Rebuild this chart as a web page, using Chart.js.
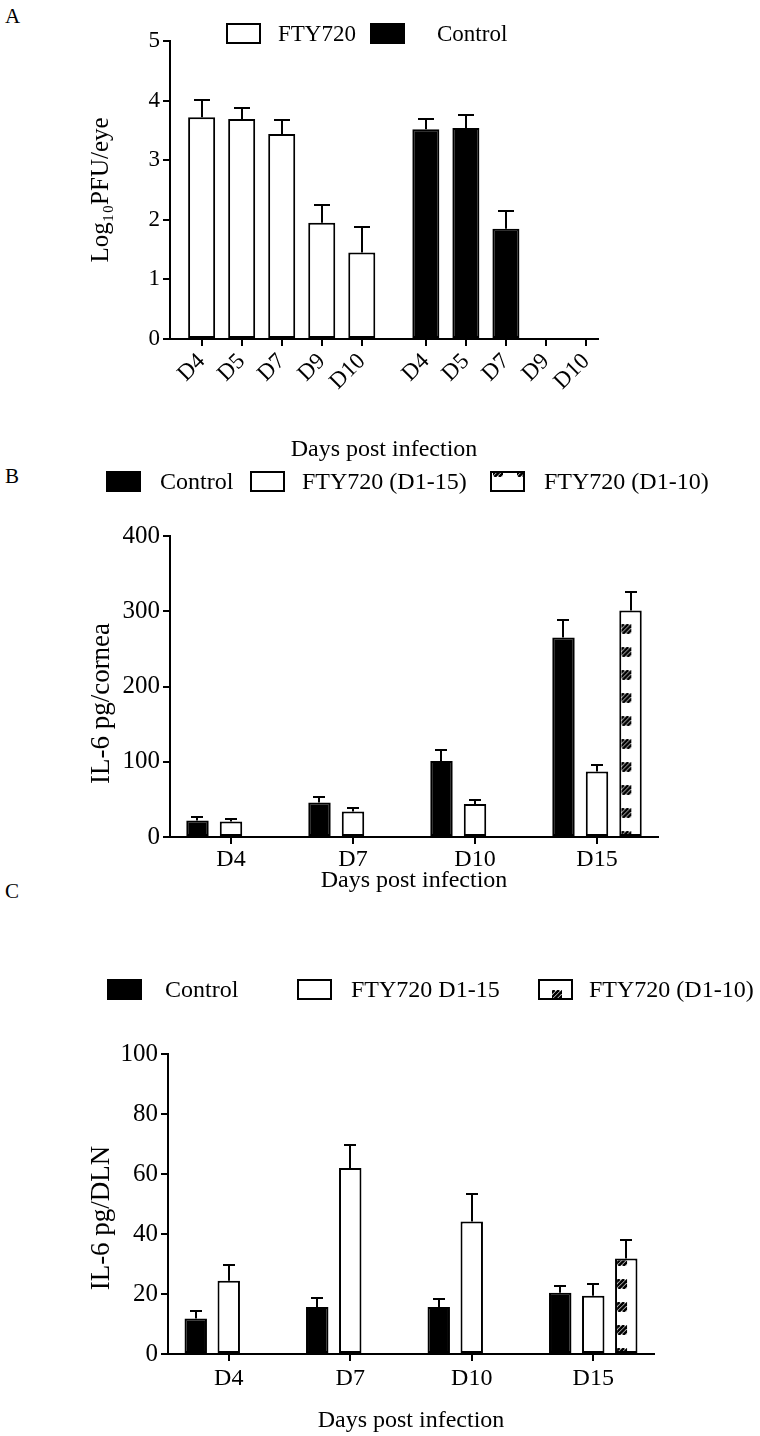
<!DOCTYPE html>
<html>
<head>
<meta charset="utf-8">
<script src="https://cdn.jsdelivr.net/npm/chart.js@4.4.1/dist/chart.umd.min.js"></script>
<style>
  html, body { margin: 0; padding: 0; background: #fff; }
  body { width: 760px; height: 1436px; position: relative; overflow: hidden;
         font-family: "Liberation Serif", "Times New Roman", serif; }
  canvas { position: absolute; left: 0; }
  .panel { position: absolute; left: 5px; font-size: 21px; line-height: 1; color: #000; }
</style>
</head>
<body>
<div class="panel" style="top:6px">A</div>
<div class="panel" style="top:466px">B</div>
<div class="panel" style="top:881px">C</div>
<canvas id="chartA" width="760" height="464" style="top:0px"></canvas>
<canvas id="chartB" width="760" height="435" style="top:460px"></canvas>
<canvas id="chartC" width="760" height="530" style="top:905px"></canvas>
<script>
// ---------------- DATA ----------------
// Panel A: virus titre (Log10 PFU/eye)
const panelADays = ['D4', 'D5', 'D7', 'D9', 'D10'];
const panelAFty = [3.72, 3.69, 3.44, 1.95, 1.45];
const panelAFtyErr = [0.29, 0.19, 0.23, 0.30, 0.43];
const panelACtrl = [3.52, 3.54, 1.85, 0, 0];
const panelACtrlErr = [0.17, 0.22, 0.30, 0, 0];

// Panels B and C: categories
const cytoDays = ['D4', 'D7', 'D10', 'D15'];

// Panel B: IL-6 pg/cornea
const bCtrl = [22, 46, 101, 265];
const bCtrlErr = [4, 7.5, 14, 23];
const bFty15 = [20.5, 34, 43.7, 87];
const bFty15Err = [4, 4, 5.3, 9];
const bFty10 = [null, null, null, 301];
const bFty10Err = [null, null, null, 25];

// Panel C: IL-6 pg/DLN
const cCtrl = [11.8, 15.7, 15.7, 20.4];
const cCtrlErr = [2.6, 3.1, 2.8, 2.4];
const cFty15 = [24.4, 62, 44.2, 19.4];
const cFty15Err = [5.2, 7.7, 9.3, 3.9];
const cFty10 = [null, null, null, 31.8];
const cFty10Err = [null, null, null, 6.1];

// ---------------- SETUP ----------------
const FONT = '"Liberation Serif", "Times New Roman", serif';
Chart.defaults.font.family = FONT;
Chart.defaults.color = '#000';
Chart.defaults.animation = false;

function makeHatch(ctx) {
  const tile = document.createElement('canvas');
  tile.width = 24; tile.height = 23;
  const t = tile.getContext('2d');
  t.fillStyle = '#fff';
  t.fillRect(0, 0, 24, 23);
  t.save();
  t.beginPath(); t.rect(0, 0, 10, 10); t.clip();
  t.strokeStyle = '#000'; t.lineWidth = 2.6;
  for (let s = -12; s <= 22; s += 4.5) {
    t.beginPath(); t.moveTo(s, 10); t.lineTo(s + 10, 0); t.stroke();
  }
  t.restore();
  return ctx.createPattern(tile, 'repeat');
}

const errorBarsPlugin = {
  id: 'errorBars',
  afterDatasetsDraw(chart, args, opts) {
    const ctx = chart.ctx;
    const yScale = chart.scales.y;
    ctx.save();
    ctx.strokeStyle = '#000';
    ctx.lineWidth = opts.lineWidth || 2;
    chart.data.datasets.forEach((ds, i) => {
      const meta = chart.getDatasetMeta(i);
      if (!ds.errors || meta.hidden) return;
      meta.data.forEach((el, j) => {
        const parsed = meta.controller.getParsed(j);
        const err = ds.errors[j];
        if (!parsed || parsed.y == null || isNaN(parsed.y) || !err) return;
        const yBar = yScale.getPixelForValue(parsed.y);
        const yTop = Math.round(yScale.getPixelForValue(parsed.y + err));
        const x = Math.round(el.x);
        const half = opts.capWidth / 2;
        ctx.beginPath();
        ctx.moveTo(x, yBar); ctx.lineTo(x, yTop);
        ctx.moveTo(x - half, yTop); ctx.lineTo(x + half, yTop);
        ctx.stroke();
      });
    });
    ctx.restore();
  }
};

const hatchAnchorPlugin = {
  id: 'hatchAnchor',
  beforeDatasetsDraw(chart) {
    chart.data.datasets.forEach((ds, i) => {
      if (!ds.hatch) return;
      const meta = chart.getDatasetMeta(i);
      const el = meta.data.find((e, j) => ds.data[j] != null);
      if (!el) return;
      ds.backgroundColor.setTransform(new DOMMatrix([1, 0, 0, 1,
        el.x - el.width / 2 + 2, el.base - 5]));
    });
  }
};

// shifts the y-axis title along the axis (the source figure places it slightly low)
const titleShiftPlugin = {
  id: 'titleShift',
  afterLayout(chart, args, opts) {
    const s = chart.scales.y;
    if (!s || !opts.dy || s._titleShiftWrapped) return;
    const orig = s.drawTitle;
    const dy = opts.dy;
    s.drawTitle = function () {
      const t = this.top, b = this.bottom;
      this.top = t + dy; this.bottom = b + dy;
      orig.call(this);
      this.top = t; this.bottom = b;
    };
    s._titleShiftWrapped = true;
  }
};

const boxLegendPlugin = {
  id: 'boxLegend',
  afterDraw(chart, args, opts) {
    if (!opts.items) return;
    const ctx = chart.ctx;
    ctx.save();
    ctx.font = opts.fontSize + 'px ' + FONT;
    ctx.textBaseline = 'middle';
    ctx.textAlign = 'left';
    opts.items.forEach((it, k) => {
      const ds = chart.data.datasets[k];
      const fill = ds.backgroundColor;
      if (ds.hatch) fill.setTransform(new DOMMatrix([1, 0, 0, 1, it.x + (it.px || 0), it.y + (it.py || 0)]));
      ctx.fillStyle = fill;
      ctx.fillRect(it.x, it.y, it.w, it.h);
      ctx.strokeStyle = '#000';
      ctx.lineWidth = 2;
      ctx.strokeRect(it.x + 1, it.y + 1, it.w - 2, it.h - 2);
      ctx.fillStyle = '#000';
      ctx.fillText(ds.label, it.tx, it.y + it.h / 2 + 1);
    });
    ctx.restore();
  }
};

function axisCommon(extra) {
  return Object.assign({
    grid: { display: true, drawOnChartArea: false, drawTicks: true, tickLength: 7,
            color: '#000', lineWidth: 2, offset: false },
    border: { display: true, color: '#000', width: 2 }
  }, extra);
}

const barStyle = { borderColor: '#000', borderWidth: 2, borderSkipped: false };

// ---------------- PANEL A ----------------
const aGroupGap = 0.6;
const aFtyPos = panelADays.map((_, i) => i);
const aCtrlPos = panelADays.map((_, i) => i + panelADays.length + aGroupGap);
const aTickPos = aFtyPos.concat(aCtrlPos);
const aTickLabels = panelADays.concat(panelADays);

new Chart(document.getElementById('chartA'), {
  type: 'bar',
  data: {
    datasets: [
      Object.assign({ label: 'FTY720', backgroundColor: '#fff', errors: panelAFtyErr,
        data: aFtyPos.map((x, i) => ({ x: x, y: panelAFty[i] })) }, barStyle),
      Object.assign({ label: 'Control', backgroundColor: '#000', errors: panelACtrlErr,
        data: aCtrlPos.map((x, i) => ({ x: x, y: panelACtrl[i] })) }, barStyle)
    ]
  },
  options: {
    responsive: false,
    animation: false,
    layout: { padding: { left: 86, right: 162, top: 41, bottom: 0 } },
    datasets: { bar: { grouped: false, barPercentage: 0.675, categoryPercentage: 1 } },
    plugins: {
      legend: { display: false },
      tooltip: { enabled: false },
      errorBars: { capWidth: 16, lineWidth: 2 },
      boxLegend: { fontSize: 23, items: [
        { x: 226, y: 23, w: 35, h: 21, tx: 278 },
        { x: 370, y: 23, w: 35, h: 21, tx: 437 }
      ] }
    },
    scales: {
      x: axisCommon({
        type: 'linear', min: -0.79, max: 9.9, offset: false,
        afterBuildTicks: s => { s.ticks = aTickPos.map(v => ({ value: v })); },
        afterFit: s => { s.height = 125; },
        ticks: { autoSkip: false, minRotation: 45, maxRotation: 45, padding: 2,
                 font: { size: 23 }, callback: (v, i) => aTickLabels[i] },
        title: { display: true, text: 'Days post infection', font: { size: 24 }, padding: 0 }
      }),
      y: axisCommon({
        min: 0, max: 5,
        afterFit: s => { s.width = 84; },
        ticks: { stepSize: 1, padding: 3, font: { size: 23 } },
        title: { display: true, text: 'Log\u2081\u2080PFU/eye', font: { size: 25 }, padding: 0 }
      })
    }
  },
  plugins: [errorBarsPlugin, boxLegendPlugin]
});

// ---------------- PANEL B ----------------
const hatchB = makeHatch(document.getElementById('chartB').getContext('2d'));
new Chart(document.getElementById('chartB'), {
  type: 'bar',
  data: {
    labels: cytoDays,
    datasets: [
      Object.assign({ label: 'Control', data: bCtrl, errors: bCtrlErr, backgroundColor: '#000' }, barStyle),
      Object.assign({ label: 'FTY720 (D1-15)', data: bFty15, errors: bFty15Err, backgroundColor: '#fff' }, barStyle),
      Object.assign({ label: 'FTY720 (D1-10)', data: bFty10, errors: bFty10Err, backgroundColor: hatchB, hatch: true }, barStyle)
    ]
  },
  options: {
    responsive: false,
    animation: false,
    layout: { padding: { left: 86, right: 102, top: 76, bottom: 0 } },
    datasets: { bar: { categoryPercentage: 0.824, barPercentage: 0.67 } },
    plugins: {
      legend: { display: false },
      tooltip: { enabled: false },
      errorBars: { capWidth: 12, lineWidth: 2 },
      titleShift: { dy: 17 },
      boxLegend: { fontSize: 24, items: [
        { x: 106, y: 11, w: 35, h: 21, tx: 160 },
        { x: 250, y: 11, w: 35, h: 21, tx: 302 },
        { x: 490, y: 11, w: 35, h: 21, tx: 544, px: 3, py: -4 }
      ] }
    },
    scales: {
      x: axisCommon({
        offset: true,
        afterFit: s => { s.height = 58; },
        ticks: { autoSkip: false, maxRotation: 0, padding: 1, font: { size: 24 } },
        title: { display: true, text: 'Days post infection', font: { size: 24 }, padding: 0 }
      }),
      y: axisCommon({
        min: 0, max: 400,
        afterFit: s => { s.width = 84; },
        ticks: { stepSize: 100, padding: 3, font: { size: 25 } },
        title: { display: true, text: 'IL-6 pg/cornea', font: { size: 27 }, padding: 0 }
      })
    }
  },
  plugins: [hatchAnchorPlugin, titleShiftPlugin, errorBarsPlugin, boxLegendPlugin]
});

// ---------------- PANEL C ----------------
const hatchC = makeHatch(document.getElementById('chartC').getContext('2d'));
new Chart(document.getElementById('chartC'), {
  type: 'bar',
  data: {
    labels: cytoDays,
    datasets: [
      Object.assign({ label: 'Control', data: cCtrl, errors: cCtrlErr, backgroundColor: '#000' }, barStyle),
      Object.assign({ label: 'FTY720 D1-15', data: cFty15, errors: cFty15Err, backgroundColor: '#fff' }, barStyle),
      Object.assign({ label: 'FTY720 (D1-10)', data: cFty10, errors: cFty10Err, backgroundColor: hatchC, hatch: true }, barStyle)
    ]
  },
  options: {
    responsive: false,
    animation: false,
    layout: { padding: { left: 86, right: 106, top: 149, bottom: 0 } },
    datasets: { bar: { categoryPercentage: 0.815, barPercentage: 0.68 } },
    plugins: {
      legend: { display: false },
      tooltip: { enabled: false },
      errorBars: { capWidth: 12, lineWidth: 2 },
      titleShift: { dy: 14 },
      boxLegend: { fontSize: 24, items: [
        { x: 107, y: 74, w: 35, h: 21, tx: 165 },
        { x: 297, y: 74, w: 35, h: 21, tx: 351 },
        { x: 538, y: 74, w: 35, h: 21, tx: 589, px: 14, py: 11 }
      ] }
    },
    scales: {
      x: axisCommon({
        offset: true,
        afterFit: s => { s.height = 81; },
        ticks: { autoSkip: false, maxRotation: 0, padding: 3, font: { size: 24 } },
        title: { display: true, text: 'Days post infection', font: { size: 24 }, padding: 0 }
      }),
      y: axisCommon({
        min: 0, max: 100,
        afterFit: s => { s.width = 82; },
        ticks: { stepSize: 20, padding: 3, font: { size: 25 } },
        title: { display: true, text: 'IL-6 pg/DLN', font: { size: 27 }, padding: 0 }
      })
    }
  },
  plugins: [hatchAnchorPlugin, titleShiftPlugin, errorBarsPlugin, boxLegendPlugin]
});
</script>
</body>
</html>
